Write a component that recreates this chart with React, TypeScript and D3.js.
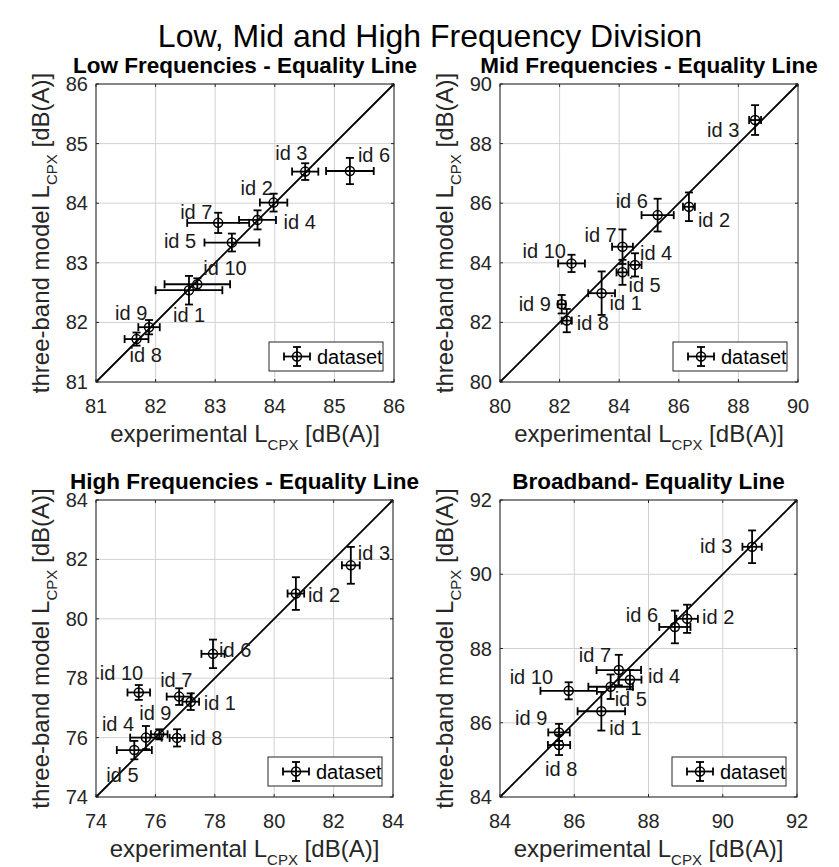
import React from 'react';
import * as d3 from 'd3';

// point names, ordered id 1 .. id 10
const ids = ["id 1", "id 2", "id 3", "id 4", "id 5", "id 6", "id 7", "id 8", "id 9", "id 10"];

// Low frequencies
const lowX = [82.56, 83.98, 84.51, 83.71, 83.28, 85.26, 83.05, 81.68, 81.89, 82.70];
const lowY = [82.54, 84.01, 84.53, 83.72, 83.34, 84.54, 83.67, 81.72, 81.92, 82.64];
const lowXErr = [0.56, 0.23, 0.22, 0.31, 0.46, 0.40, 0.52, 0.20, 0.18, 0.55];
const lowYErr = [0.24, 0.15, 0.14, 0.16, 0.15, 0.22, 0.17, 0.11, 0.12, 0.10];
const lowTicks = [81, 82, 83, 84, 85, 86];

// Mid frequencies
const midX = [83.41, 86.34, 88.56, 84.53, 84.11, 85.29, 84.11, 82.24, 82.07, 82.40];
const midY = [82.98, 85.88, 88.79, 83.93, 83.68, 85.60, 84.54, 82.06, 82.61, 83.98];
const midXErr = [0.45, 0.20, 0.20, 0.22, 0.20, 0.54, 0.35, 0.17, 0.13, 0.45];
const midYErr = [0.73, 0.48, 0.50, 0.39, 0.42, 0.55, 0.58, 0.39, 0.31, 0.29];
const midTicks = [80, 82, 84, 86, 88, 90];

// High frequencies
const highX = [77.19, 80.73, 82.58, 75.68, 75.29, 77.94, 76.80, 76.73, 76.13, 75.44];
const highY = [77.21, 80.85, 81.80, 76.00, 75.58, 78.82, 77.38, 75.99, 76.11, 77.52];
const highXErr = [0.28, 0.28, 0.30, 0.53, 0.59, 0.39, 0.42, 0.25, 0.28, 0.38];
const highYErr = [0.28, 0.55, 0.62, 0.39, 0.31, 0.48, 0.28, 0.29, 0.17, 0.25];
const highTicks = [74, 76, 78, 80, 82, 84];

// Broadband
const broadX = [86.73, 89.04, 90.79, 87.50, 86.98, 88.71, 87.20, 85.59, 85.59, 85.85];
const broadY = [86.31, 88.80, 90.74, 87.16, 86.97, 88.58, 87.42, 85.40, 85.74, 86.86];
const broadXErr = [0.64, 0.29, 0.26, 0.31, 0.60, 0.42, 0.60, 0.30, 0.29, 0.76];
const broadYErr = [0.52, 0.38, 0.44, 0.26, 0.33, 0.44, 0.41, 0.27, 0.23, 0.23];
const broadTicks = [84, 86, 88, 90, 92];

// label placement (px from the marker, text start / baseline)
const lowLabelPos = [[-16, 32], [-33, -8], [-30, -12], [26, 9], [-68, 5], [8, -9], [-38, -4], [-7, 23], [-34, -7], [6, -9]];
const midLabelPos = [[8, 17], [9, 20], [-48, 17], [5, -5], [6, 20], [-42, -7], [-38, -5], [10, 9], [-43, 7], [-49, -5]];
const highLabelPos = [[13, 8], [12, 8], [7, -5], [-44, -7], [-28, 32], [6, 3], [-19, -10], [13, 7], [-20, -14], [-39, -12]];
const broadLabelPos = [[8, 24], [15, 5], [-52, 6], [18, 3], [4, 19], [-49, -5], [-40, -8], [-14, 31], [-44, -7], [-59, -7]];

const FONT = "'Liberation Sans', Arial, Helvetica, sans-serif";

interface PanelProps {
    title: string;
    left: number;
    top: number;
    size: number;
    ticks: number[];
    xs: number[];
    ys: number[];
    xErr: number[];
    yErr: number[];
    labelPos: number[][];
}

const ErrorMark: React.FC<{ cx: number; cy: number; x0: number; x1: number; y0: number; y1: number }> = ({ cx, cy, x0, x1, y0, y1 }) => {
    const cap = 4;
    return (
        <g stroke="#000" strokeWidth={1.8} fill="none">
            <line x1={x0} x2={x1} y1={cy} y2={cy} />
            <line x1={x0} x2={x0} y1={cy - cap} y2={cy + cap} />
            <line x1={x1} x2={x1} y1={cy - cap} y2={cy + cap} />
            <line x1={cx} x2={cx} y1={y0} y2={y1} />
            <line x1={cx - cap} x2={cx + cap} y1={y0} y2={y0} />
            <line x1={cx - cap} x2={cx + cap} y1={y1} y2={y1} />
            <circle cx={cx} cy={cy} r={4.5} strokeWidth={1.5} />
        </g>
    );
};

const Panel: React.FC<PanelProps> = ({ title, left, top, size, ticks, xs, ys, xErr, yErr, labelPos }) => {
    const domain = d3.extent(ticks) as [number, number];
    const x = d3.scaleLinear().domain(domain).range([left, left + size]);
    const y = d3.scaleLinear().domain(domain).range([top + size, top]);
    const right = left + size;
    const bottom = top + size;
    const cx = left + size / 2;
    const cy = top + size / 2;
    const tl = 3;

    return (
        <g fontFamily={FONT}>
            {/* grid */}
            {ticks.map(t => (
                <g key={"g" + t} stroke="#d2d2d2" strokeWidth={1}>
                    <line x1={x(t)} x2={x(t)} y1={top} y2={bottom} />
                    <line x1={left} x2={right} y1={y(t)} y2={y(t)} />
                </g>
            ))}
            {/* tick marks */}
            {ticks.map(t => (
                <g key={"t" + t} stroke="#262626" strokeWidth={1}>
                    <line x1={x(t)} x2={x(t)} y1={bottom} y2={bottom - tl} />
                    <line x1={x(t)} x2={x(t)} y1={top} y2={top + tl} />
                    <line x1={left} x2={left + tl} y1={y(t)} y2={y(t)} />
                    <line x1={right} x2={right - tl} y1={y(t)} y2={y(t)} />
                </g>
            ))}
            {/* equality line */}
            <line x1={x(domain[0])} y1={y(domain[0])} x2={x(domain[1])} y2={y(domain[1])}
                stroke="#000" strokeWidth={1.8} />
            {/* data */}
            {xs.map((v, i) => (
                <ErrorMark key={ids[i]} cx={x(v)} cy={y(ys[i])}
                    x0={x(v - xErr[i])} x1={x(v + xErr[i])}
                    y0={y(ys[i] - yErr[i])} y1={y(ys[i] + yErr[i])} />
            ))}
            {xs.map((v, i) => (
                <text key={"l" + ids[i]} x={x(v) + labelPos[i][0]} y={y(ys[i]) + labelPos[i][1]}
                    fontSize={20} fill="#1a1a1a">{ids[i]}</text>
            ))}
            {/* box */}
            <rect x={left} y={top} width={size} height={size} fill="none" stroke="#262626" strokeWidth={1} />
            {/* tick labels */}
            {ticks.map(t => (
                <text key={"xl" + t} x={x(t)} y={bottom + 31} textAnchor="middle" fontSize={20} fill="#262626">{t}</text>
            ))}
            {ticks.map(t => (
                <text key={"yl" + t} x={left - 8} y={y(t) + 7} textAnchor="end" fontSize={20} fill="#262626">{t}</text>
            ))}
            {/* axis labels */}
            <text x={cx} y={bottom + 60} textAnchor="middle" fontSize={24} fill="#262626">
                experimental L<tspan fontSize={15} dy={8}>CPX</tspan><tspan dy={-8}> [dB(A)]</tspan>
            </text>
            <text transform={`translate(${left - 47},${cy}) rotate(-90)`} textAnchor="middle" fontSize={24} fill="#262626">
                three-band model L<tspan fontSize={15} dy={8}>CPX</tspan><tspan dy={-8}> [dB(A)]</tspan>
            </text>
            {/* title */}
            <text x={cx} y={top - 11} textAnchor="middle" fontSize={22.5} fontWeight="bold" fill="#000">{title}</text>
            {/* legend */}
            <g>
                <rect x={right - 125} y={bottom - 40} width={114} height={29} fill="#fff" stroke="#262626" strokeWidth={1} />
                <ErrorMark cx={right - 97} cy={bottom - 25.5} x0={right - 110} x1={right - 84} y0={bottom - 35} y1={bottom - 16} />
                <text x={right - 77} y={bottom - 18} fontSize={20} fill="#000">dataset</text>
            </g>
        </g>
    );
};

export default function App() {
    return (
        <svg width={839} height={867} style={{ display: 'block', position: 'absolute', left: 0, top: 0, background: '#fff' }}>
            <rect width={839} height={867} fill="#fff" />
            <text x={430} y={47} textAnchor="middle" fontSize={32} fontFamily={FONT} fill="#000">
                Low, Mid and High Frequency Division
            </text>
            <Panel title="Low Frequencies - Equality Line" left={96} top={84} size={298} ticks={lowTicks}
                xs={lowX} ys={lowY} xErr={lowXErr} yErr={lowYErr} labelPos={lowLabelPos} />
            <Panel title="Mid Frequencies - Equality Line" left={500} top={84} size={298} ticks={midTicks}
                xs={midX} ys={midY} xErr={midXErr} yErr={midYErr} labelPos={midLabelPos} />
            <Panel title="High Frequencies - Equality Line" left={96} top={500} size={297} ticks={highTicks}
                xs={highX} ys={highY} xErr={highXErr} yErr={highYErr} labelPos={highLabelPos} />
            <Panel title="Broadband- Equality Line" left={500} top={500} size={297} ticks={broadTicks}
                xs={broadX} ys={broadY} xErr={broadXErr} yErr={broadYErr} labelPos={broadLabelPos} />
        </svg>
    );
}
